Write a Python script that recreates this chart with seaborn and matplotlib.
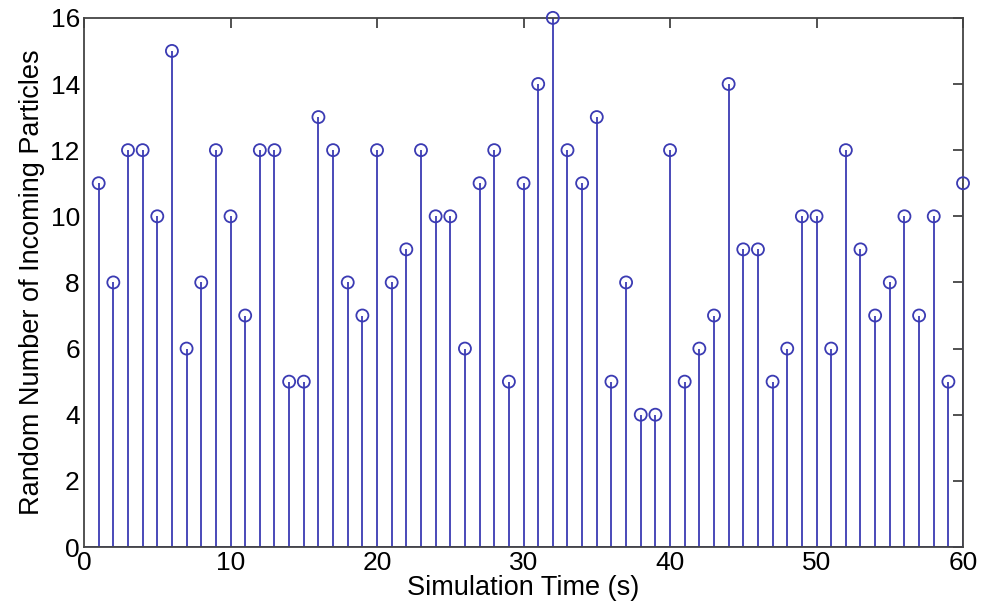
import matplotlib
matplotlib.use("Agg")
import matplotlib.pyplot as plt
import seaborn as sns
import pandas as pd

time_s = list(range(1, 61))
particles = [11, 8, 12, 12, 10, 15, 6, 8, 12, 10,
             7, 12, 12, 5, 5, 13, 12, 8, 7, 12,
             8, 9, 12, 10, 10, 6, 11, 12, 5, 11,
             14, 16, 12, 11, 13, 5, 8, 4, 4, 12,
             5, 6, 7, 14, 9, 9, 5, 6, 10, 10,
             6, 12, 9, 7, 8, 10, 7, 10, 5, 11]
x_ticks = [0, 10, 20, 30, 40, 50, 60]
y_ticks = [0, 2, 4, 6, 8, 10, 12, 14, 16]

sns.set_style("white")
plt.rcParams['font.family'] = ['Liberation Sans', 'DejaVu Sans']

df = pd.DataFrame({"t": time_s, "n": particles})
color = "#3b3bb3"

fig = plt.figure(figsize=(9.84, 6.16), dpi=100)
ax = fig.add_axes([0.0854, 0.112, 0.8933, 0.859])

ax.vlines(df["t"], 0, df["n"], color=color, linewidth=1.3, zorder=2)
sns.scatterplot(data=df, x="t", y="n", ax=ax, marker="o", s=75,
                facecolors="none", edgecolor=color, linewidth=1.3, zorder=3,
                legend=False, clip_on=False)
ax.axhline(0, color=color, linewidth=1.3, zorder=2)

ax.set_xlim(0, 60)
ax.set_ylim(0, 16)
ax.set_xticks(x_ticks)
ax.set_yticks(y_ticks)
ax.tick_params(direction="in", length=7, width=1.2, top=True, right=True,
               labelsize=19, colors="#333333", labelcolor="black", pad=3)
for sp in ax.spines.values():
    sp.set_color("#444444")
    sp.set_linewidth(1.3)
    sp.set_visible(True)

ax.set_xlabel("Simulation Time (s)", fontsize=19.5, color="black", labelpad=0)
ax.set_ylabel("Random Number of Incoming Particles", fontsize=19.5,
              color="black", labelpad=4)

fig.savefig("out.png", dpi=100)
